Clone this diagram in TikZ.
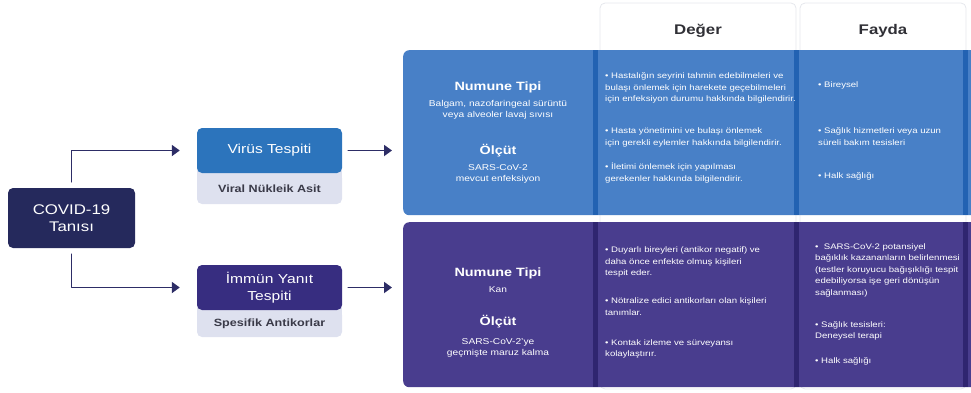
\documentclass[tikz,border=0pt]{standalone}
\usepackage{fontspec}
\setmainfont[FakeStretch=1.2]{Liberation Sans}
\usetikzlibrary{arrows.meta, positioning}
\definecolor{covidnavy}{RGB}{37,41,92}
\definecolor{arrownavy}{RGB}{45,45,102}
\definecolor{virusblue}{RGB}{44,116,188}
\definecolor{immunpurple}{RGB}{55,45,128}
\definecolor{subgrey}{RGB}{222,225,239}
\definecolor{subtext}{RGB}{58,58,72}
\definecolor{panelblue}{RGB}{72,128,199}
\definecolor{stripblue}{RGB}{34,98,178}
\definecolor{panelpurple}{RGB}{73,61,142}
\definecolor{strippurple}{RGB}{47,37,112}
\definecolor{headline}{RGB}{230,232,237}
\definecolor{headtext}{RGB}{48,48,54}
\tikzset{>={Triangle[length=8pt, width=11pt]}}
\tikzset{conn/.style={arrownavy, line width=1.8pt, ->}}
\tikzset{covidbox/.style={fill=covidnavy, text=white, rounded corners=5pt, align=center, minimum width=127pt, minimum height=60pt, inner sep=0pt, font=\fontsize{14}{17}\selectfont}}
\tikzset{testbox/.style={text=white, rounded corners=5pt, align=center, minimum width=145pt, minimum height=45pt, inner sep=0pt, font=\fontsize{13}{17}\selectfont}}
\tikzset{subbox/.style={fill=subgrey, text=subtext, rounded corners=5pt, minimum width=145pt, inner sep=0pt, font=\bfseries\fontsize{10.5}{12}\selectfont}}
\tikzset{panel/.style={rounded corners=6pt, minimum width=590pt, minimum height=165pt, anchor=north west, inner sep=0pt}}
\tikzset{headbox/.style={draw=headline, fill=white, rounded corners=5pt, line width=0.8pt}}
\tikzset{headtext/.style={text=headtext, font=\bfseries\fontsize{14}{16}\selectfont}}
\tikzset{coltitle/.style={text=white, anchor=north, inner sep=0pt, font=\bfseries\fontsize{12}{14}\selectfont}}
\tikzset{colbody/.style={text=white, anchor=north, align=center, inner sep=0pt, font=\fontsize{8.5}{11.6}\selectfont}}
\tikzset{bullets/.style={text=white, anchor=north west, align=left, inner sep=0pt, font=\fontsize{8}{11.6}\selectfont}}
\newcommand{\colstrips}[3]{%
	\foreach \xs in {593,794,963}
		\fill[#3] (\xs,#1) rectangle (\xs+5,#2);
}

\begin{document}
\begin{tikzpicture}[x=1pt, y=-1pt, line cap=round, line join=round]
	\useasboundingbox (0,0) rectangle (971,392);

	% Column Headers
	\foreach \xa/\xb/\hname/\htext in {600/796/deger/Değer, 800/966/fayda/Fayda}
	{
		\draw[headbox] (\xa,3) rectangle (\xb,389);
		\node[headtext] (\hname) at ({(\xa+\xb)/2},31) {\htext};
	}

	% Panels
	\node[panel, fill=panelblue] (bluepanel) at (403,50) {};
	\colstrips{50}{215}{stripblue}
	\node[panel, fill=panelpurple] (purplepanel) at (403,222) {};
	\colstrips{222}{387}{strippurple}

	% Diagnosis
	\node[covidbox] (covid) at (71.5,218) {COVID-19\\Tanısı};

	% Test Boxes
	\node[subbox, minimum height=31pt] (virussub) at (269.5,188.5) {Viral Nükleik Asit};
	\fill[subgrey] ([yshift=-6pt]virussub.north west) rectangle ([yshift=8pt]virussub.north east);
	\node[testbox, fill=virusblue] (virus) at (269.5,150.5) {Virüs Tespiti};

	\node[subbox, minimum height=27pt] (immunsub) at (269.5,323.5) {Spesifik Antikorlar};
	\fill[subgrey] ([yshift=-6pt]immunsub.north west) rectangle ([yshift=8pt]immunsub.north east);
	\node[testbox, fill=immunpurple] (immun) at (269.5,287.5) {İmmün Yanıt\\Tespiti};

	% Connectors
	\draw[conn, shorten <=6pt, shorten >=17pt] (covid.north) |- (virus.west);
	\draw[conn, shorten <=6pt, shorten >=17pt] (covid.south) |- (immun.west);
	\draw[conn, shorten <=6pt, shorten >=11pt] (virus.east) -- (virus.east -| bluepanel.west);
	\draw[conn, shorten <=6pt, shorten >=11pt] (immun.east) -- (immun.east -| purplepanel.west);

	% Virus Row - Sample and Criterion
	\node[coltitle] (vtype) at (498,81.5) {Numune Tipi};
	\node[colbody] (vtypetxt) at (498,100) {Balgam, nazofaringeal sürüntü\\veya alveoler lavaj sıvısı};
	\node[coltitle] (vcrit) at (498,144.5) {Ölçüt};
	\node[colbody] (vcrittxt) at (498,164) {SARS-CoV-2\\mevcut enfeksiyon};

	% Virus Row - Value
	\node[bullets] (vval1) at (605,72.5) {\textbullet{} Hastalığın seyrini tahmin edebilmeleri ve\\bulaşı önlemek için harekete geçebilmeleri\\için enfeksiyon durumu hakkında bilgilendirir.};
	\node[bullets] (vval2) at (605,127.5) {\textbullet{} Hasta yönetimini ve bulaşı önlemek\\için gerekli eylemler hakkında bilgilendirir.};
	\node[bullets] (vval3) at (605,162.5) {\textbullet{} İletimi önlemek için yapılması\\gerekenler hakkında bilgilendirir.};

	% Virus Row - Benefit
	\node[bullets] (vben1) at (818,81.5) {\textbullet{} Bireysel};
	\node[bullets] (vben2) at (818,127.5) {\textbullet{} Sağlık hizmetleri veya uzun\\süreli bakım tesisleri};
	\node[bullets] (vben3) at (818,172.5) {\textbullet{} Halk sağlığı};

	% Immune Row - Sample and Criterion
	\node[coltitle] (itype) at (498,268) {Numune Tipi};
	\node[colbody] (itypetxt) at (498,286.5) {Kan};
	\node[coltitle] (icrit) at (498,315.5) {Ölçüt};
	\node[colbody] (icrittxt) at (498,338) {SARS-CoV-2’ye\\geçmişte maruz kalma};

	% Immune Row - Value
	\node[bullets] (ival1) at (605,246.5) {\textbullet{} Duyarlı bireyleri (antikor negatif) ve\\daha önce enfekte olmuş kişileri\\tespit eder.};
	\node[bullets] (ival2) at (605,297.5) {\textbullet{} Nötralize edici antikorları olan kişileri\\tanımlar.};
	\node[bullets] (ival3) at (605,339) {\textbullet{} Kontak izleme ve sürveyansı\\kolaylaştırır.};

	% Immune Row - Benefit
	\node[bullets] (iben1) at (815,243) {\textbullet\ \ SARS-CoV-2 potansiyel\\bağıklık kazananların belirlenmesi\\(testler koruyucu bağışıklığı tespit\\edebiliyorsa işe geri dönüşün\\sağlanması)};
	\node[bullets] (iben2) at (815,321) {\textbullet{} Sağlık tesisleri:\\Deneysel terapi};
	\node[bullets] (iben3) at (815,357.5) {\textbullet{} Halk sağlığı};
\end{tikzpicture}
\end{document}
